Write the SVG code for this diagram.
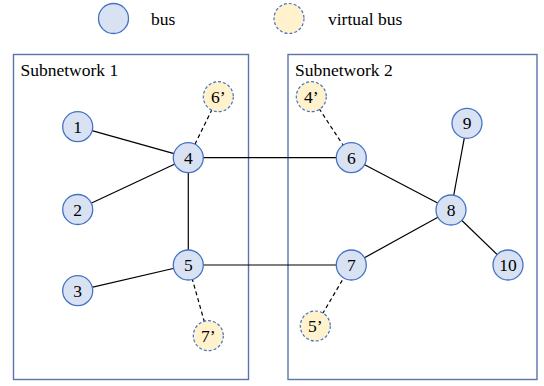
<svg xmlns="http://www.w3.org/2000/svg" width="544" height="386" viewBox="0 0 544 386" font-family="'Liberation Serif', 'Times New Roman', Times, 'DejaVu Serif', serif" font-size="17.5">
<style>
text{font-family:'Liberation Serif','Times New Roman',Times,'DejaVu Serif',serif;font-size:17.5px;fill:#000}
.n text{text-anchor:middle}
.bus{fill:#d9e2f3;stroke:#4472c4;stroke-width:1.3}
.vbus{fill:#fff2cc;stroke:#4472c4;stroke-width:1.2;stroke-dasharray:3 2}
.box{fill:none;stroke:#5a74ad;stroke-width:1.4}
.e{stroke:#000;stroke-width:1.2;fill:none}
.d{stroke:#000;stroke-width:1.2;stroke-dasharray:4 3;fill:none}
</style>
<g id="legend">
<circle class="bus" cx="113.5" cy="18.5" r="15"/>
<text x="151" y="25">bus</text>
<circle class="vbus" cx="289" cy="18.5" r="15"/>
<text x="328" y="25">virtual bus</text>
</g>
<g id="subnetwork1">
<rect class="box" x="13.5" y="54.5" width="235" height="325"/>
<text x="20.5" y="76">Subnetwork 1</text>
</g>
<g id="subnetwork2">
<rect class="box" x="288" y="54.5" width="249" height="325"/>
<text x="295" y="76">Subnetwork 2</text>
</g>
<g id="connectors">
<line class="e" x1="77.7" y1="126.7" x2="188.3" y2="157.7"/>
<line class="e" x1="77.7" y1="209.5" x2="188.3" y2="157.7"/>
<line class="e" x1="188.3" y1="157.7" x2="188.3" y2="265"/>
<line class="e" x1="188.3" y1="157.7" x2="351.3" y2="157.7"/>
<line class="e" x1="77.7" y1="290.7" x2="188.3" y2="265"/>
<line class="e" x1="188.3" y1="265" x2="351.3" y2="265"/>
<line class="e" x1="351.3" y1="157.7" x2="451" y2="210"/>
<line class="e" x1="467" y1="123.3" x2="451" y2="210"/>
<line class="e" x1="351.3" y1="265" x2="451" y2="210"/>
<line class="e" x1="451" y1="210" x2="508" y2="265"/>
<line class="d" x1="218.3" y1="96.7" x2="188.3" y2="157.7"/>
<line class="d" x1="311.3" y1="96.7" x2="351.3" y2="157.7"/>
<line class="d" x1="208.3" y1="335.7" x2="188.3" y2="265"/>
<line class="d" x1="315.3" y1="326" x2="351.3" y2="265"/>
</g>
<g id="node1" class="n"><circle class="bus" cx="77.7" cy="126.7" r="15"/><text x="77.7" y="132.7">1</text></g>
<g id="node2" class="n"><circle class="bus" cx="77.7" cy="209.5" r="15"/><text x="77.7" y="215.5">2</text></g>
<g id="node3" class="n"><circle class="bus" cx="77.7" cy="290.7" r="15"/><text x="77.7" y="296.7">3</text></g>
<g id="node4" class="n"><circle class="bus" cx="188.3" cy="157.7" r="15"/><text x="188.3" y="163.7">4</text></g>
<g id="node5" class="n"><circle class="bus" cx="188.3" cy="265" r="15"/><text x="188.3" y="271">5</text></g>
<g id="node6p" class="n"><circle class="vbus" cx="218.3" cy="96.7" r="15"/><text x="218.3" y="102.7">6’</text></g>
<g id="node7p" class="n"><circle class="vbus" cx="208.3" cy="335.7" r="15"/><text x="208.3" y="341.7">7’</text></g>
<g id="node4p" class="n"><circle class="vbus" cx="311.3" cy="96.7" r="15"/><text x="311.3" y="102.7">4’</text></g>
<g id="node5p" class="n"><circle class="vbus" cx="315.3" cy="326" r="15"/><text x="315.3" y="332">5’</text></g>
<g id="node6" class="n"><circle class="bus" cx="351.3" cy="157.7" r="15"/><text x="351.3" y="163.7">6</text></g>
<g id="node7" class="n"><circle class="bus" cx="351.3" cy="265" r="15"/><text x="351.3" y="271">7</text></g>
<g id="node8" class="n"><circle class="bus" cx="451" cy="210" r="15"/><text x="451" y="216">8</text></g>
<g id="node9" class="n"><circle class="bus" cx="467" cy="123.3" r="15"/><text x="467" y="129.3">9</text></g>
<g id="node10" class="n"><circle class="bus" cx="508" cy="265" r="15"/><text x="508" y="271">10</text></g>
</svg>
